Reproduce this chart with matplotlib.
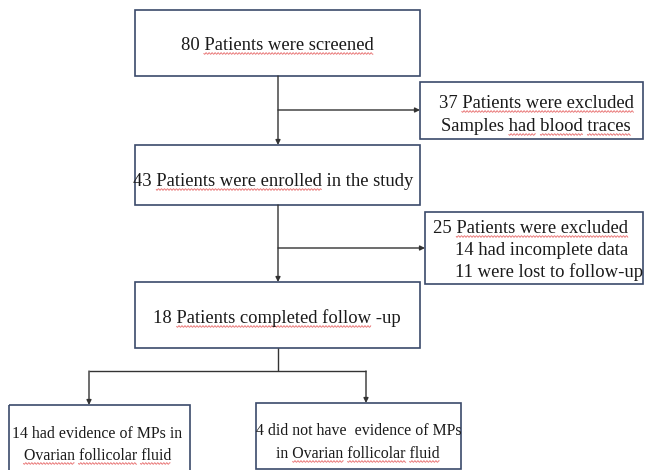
import numpy as np
import matplotlib
matplotlib.use("Agg")
import matplotlib.pyplot as plt
from matplotlib.patches import Rectangle
from matplotlib.font_manager import FontProperties
from matplotlib.textpath import TextToPath

# flow counts
screened = 80
excluded_blood = 37
enrolled = 43
excluded_follow = 25
incomplete = 14
lost = 11
completed = 18
with_mps = 14
without_mps = 4

FONT = "Liberation Serif"
DPI = 100
BOX_EC = "#3b4a6b"
LINE_C = "#333333"

fig = plt.figure(figsize=(6.45, 4.70), dpi=DPI)
ax = fig.add_axes([0, 0, 1, 1])
ax.set_xlim(0, 645)
ax.set_ylim(470, 0)
ax.axis("off")

prop_main = FontProperties(family=FONT, size=13.4)
prop_small = FontProperties(family=FONT, size=11.4)
t2p = TextToPath()


def width_px(s, prop):
    w, h, d = t2p.get_text_width_height_descent(s, prop, ismath=False)
    return w * DPI / 72.0


def squiggle(x0, x1, y):
    xs = np.arange(x0, x1, 0.5)
    ys = y + 0.8 * np.sin((xs - x0) * 2 * np.pi / 3.0)
    ax.plot(xs, ys, color="#e04040", lw=0.6, alpha=0.8)


def text_line(x, y, s, wavy=(), ha="center", prop=prop_main):
    # wavy: substrings that get a spell-check squiggle
    w = width_px(s, prop)
    left = x - w / 2 if ha == "center" else x
    ax.text(left, y, s, fontproperties=prop, ha="left", va="baseline",
            color="#1a1a1a", clip_on=False)
    for word in wavy:
        i = s.find(word)
        if i < 0:
            continue
        a = left + width_px(s[:i - 1] + " ", prop) if i > 0 else left
        b = a + width_px(word, prop)
        squiggle(a, b, y + 3.5)


def box(x0, y0, x1, y1):
    ax.add_patch(Rectangle((x0, y0), x1 - x0, y1 - y0, fill=False,
                           ec=BOX_EC, lw=1.2))


def arrow(x0, y0, x1, y1):
    ax.annotate("", xy=(x1, y1), xytext=(x0, y0),
                arrowprops=dict(arrowstyle="-|>", color=LINE_C, lw=1.0,
                                mutation_scale=7, shrinkA=0, shrinkB=0))


def seg(xs, ys):
    ax.plot(xs, ys, color=LINE_C, lw=1.0, solid_capstyle="butt")


# boxes
box(135, 10, 420, 76)
box(420, 82, 643, 139)
box(135, 145, 420, 205)
box(425, 212, 643, 284)
box(135, 282, 420, 348)
box(9, 405, 190, 472)
box(256, 403, 461, 469)

# connectors
arrow(278, 76, 278, 145)
arrow(278, 110, 420, 110)
arrow(278, 205, 278, 282)
arrow(278, 248, 425, 248)
seg([278, 278], [348, 371])
seg([89, 366], [371, 371])
arrow(89, 371, 89, 405)
arrow(366, 371, 366, 403)

# texts
text_line(277, 50, f"{screened} Patients were screened",
          wavy=["Patients were screened"])
text_line(536, 108, f"{excluded_blood} Patients were excluded",
          wavy=["Patients were excluded"])
text_line(536, 131, "Samples had blood traces",
          wavy=["had", "blood", "traces"])
text_line(133, 186, f"{enrolled} Patients were enrolled in the study",
          wavy=["Patients were enrolled"], ha="left")
text_line(433, 233, f"{excluded_follow} Patients were excluded",
          wavy=["Patients were excluded"], ha="left")
text_line(455, 255, f"{incomplete} had incomplete data", ha="left")
text_line(455, 277, f"{lost} were lost to follow-up", ha="left")
text_line(277, 323, f"{completed} Patients completed follow -up",
          wavy=["Patients completed follow"])
text_line(97, 438, f"{with_mps} had evidence of MPs in", prop=prop_small)
text_line(97, 460, "Ovarian follicolar fluid",
          wavy=["Ovarian", "follicolar", "fluid"], prop=prop_small)
text_line(358, 435, f"{without_mps} did not have  evidence of MPs",
          prop=prop_small)
text_line(358, 458, "in Ovarian follicolar fluid",
          wavy=["Ovarian", "follicolar", "fluid"], prop=prop_small)

fig.savefig("out.png", dpi=DPI)
